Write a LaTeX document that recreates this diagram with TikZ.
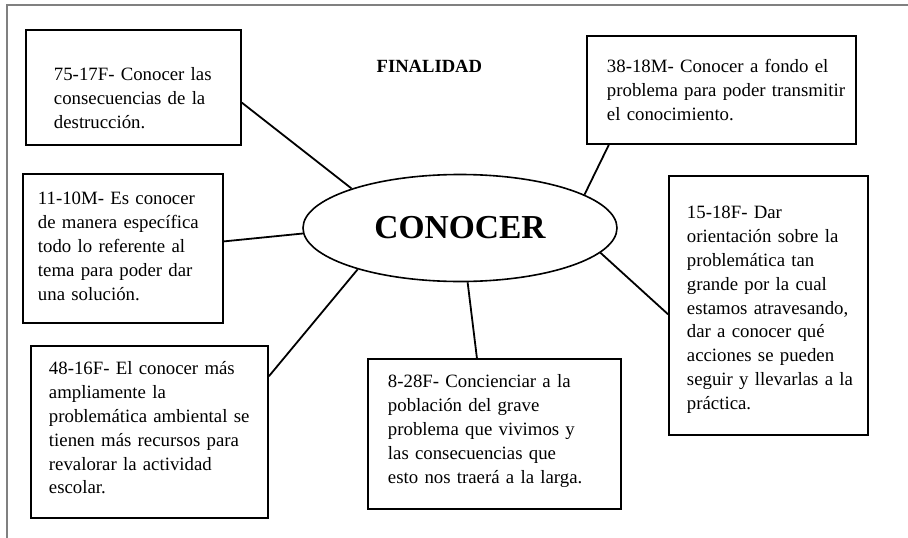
\documentclass[tikz,border=0pt]{standalone}
\usepackage{fontspec}
\setmainfont{Liberation Serif}
\usetikzlibrary{shapes.geometric}
\newcommand\textocaja{\fontsize{18.8}{23.8}\selectfont}
\tikzset{
	caja/.style n args={4}{draw, line width=1.9pt, anchor=north west, inner xsep=0pt, inner ysep=0pt, align=left, font=\textocaja, text width=#1, text height=#2, text depth=#3, execute at begin node={\leftskip=#4\relax}},
	enlace/.style={line width=1.8pt},
}
\begin{document}
\begin{tikzpicture}[x=1pt, y=-1pt]
		\useasboundingbox (0,0) rectangle (908,538);
		\draw[gray, line width=2.5pt] (7,538) -- (7,5) -- (908,5);
		\node[ellipse, draw, line width=1.6pt, minimum width=314pt, minimum height=107pt, inner sep=0pt, font=\fontsize{33.5}{40}\selectfont\bfseries] (conocer) at (460,228) {CONOCER\hspace{24pt}};
		\node[font=\fontsize{18.6}{22}\selectfont\bfseries, anchor=base] (finalidad) at (429.4,72.3) {FINALIDAD};
		\node[caja={215pt}{51pt}{64pt}{28pt}] (c7517) at (25,29) {75-17F- Conocer las\\consecuencias de la\\destrucción.};
		\node[caja={200pt}{31pt}{118pt}{15pt}] (c1110) at (22,173) {11-10M- Es conocer\\de manera específica\\todo lo referente al\\tema para poder dar\\una solución.};
		\node[caja={237pt}{29pt}{143pt}{18pt}] (c4816) at (30,345) {48-16F- El conocer más\\ampliamente la\\problemática ambiental se\\tienen más recursos para\\revalorar la actividad\\escolar.};
		\node[caja={253pt}{29pt}{121pt}{20pt}] (c828) at (367,358) {8-28F- Concienciar a la\\población del grave\\problema que vivimos y\\las consecuencias que\\esto nos traerá a la larga.};
		\node[caja={199pt}{43pt}{216pt}{18pt}] (c1518) at (668,175) {15-18F- Dar\\orientación sobre la\\problemática tan\\grande por la cual\\estamos atravesando,\\dar a conocer qué\\acciones se pueden\\seguir y llevarlas a la\\práctica.};
		\node[caja={269pt}{37pt}{71pt}{20pt}] (c3818) at (586,35) {38-18M- Conocer a fondo el\\problema para poder transmitir\\el conocimiento.};
		\draw[enlace] (c7517.-8) -- (conocer.160);
		\draw[enlace] (c1110.4) -- (conocer.182);
		\draw[enlace] (c4816.25) -- (conocer.202);
		\draw[enlace] (c828.103) -- (conocer.278);
		\draw[enlace] (c1518.185) -- (conocer.350);
		\draw[enlace] (c3818.206) -- (conocer.15);
\end{tikzpicture}
\end{document}
